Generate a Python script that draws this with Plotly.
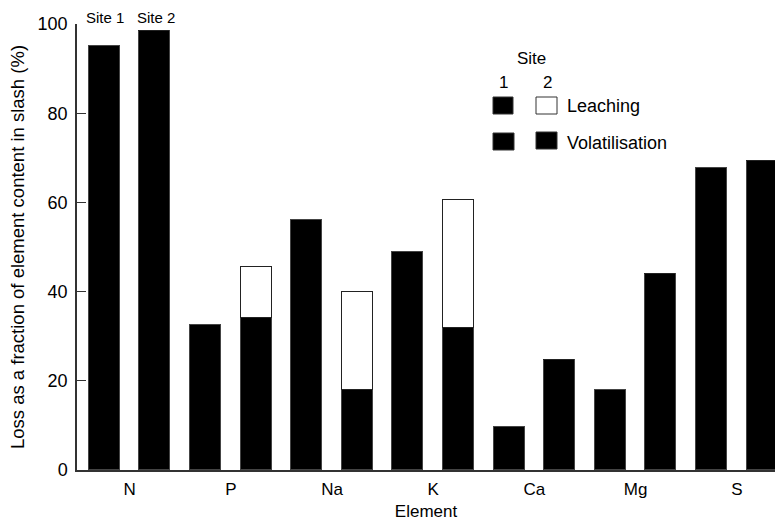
import plotly.graph_objects as go

# Element losses from slash (% of element content), per site
elements = ["N", "P", "Na", "K", "Ca", "Mg", "S"]
site1_volatilisation = [95, 32.5, 56, 48.8, 9.7, 18, 67.8]
site2_volatilisation = [98.5, 34, 18, 31.8, 24.7, 44, 69.3]
site2_leaching = [0, 11.5, 22, 28.7, 0, 0, 0]

y_ticks = [0, 20, 40, 60, 80, 100]

FONT = "Liberation Sans, Arial, sans-serif"
W, H = 775, 521
L, R, T, B = 77, 0, 24, 51


def px(x):
    return (x - L) / (W - L - R)


def py(y):
    return (H - B - y) / (H - T - B)


idx = list(range(len(elements)))
x1 = [i - 0.25 for i in idx]
x2 = [i + 0.25 for i in idx]
bw = 0.306

fig = go.Figure()
fig.add_trace(go.Bar(x=x1, y=site1_volatilisation, width=bw,
                     marker=dict(color="black", line=dict(color="#444", width=1)),
                     name="Site 1 volatilisation", showlegend=False))
fig.add_trace(go.Bar(x=x2, y=site2_volatilisation, width=bw,
                     marker=dict(color="black", line=dict(color="#444", width=1)),
                     name="Site 2 volatilisation", showlegend=False))
fig.add_trace(go.Bar(x=x2, y=site2_leaching, width=bw,
                     marker=dict(color="white", line=dict(color="#222", width=1.5)),
                     name="Site 2 leaching", showlegend=False))

# Legend drawn by hand: column per site, row per loss pathway
shapes = []
boxes = [
    (493, 97, 513, 114, "black"),
    (536, 97, 557, 114, "white"),
    (493, 133, 514, 150, "black"),
    (536, 132, 557, 149, "black"),
]
for x0, y0, x1_, y1, c in boxes:
    shapes.append(dict(type="rect", xref="paper", yref="paper",
                       x0=px(x0), x1=px(x1_), y0=py(y1), y1=py(y0),
                       fillcolor=c, line=dict(color="#333", width=1)))

annotations = []


def note(text, x, y, size=18, xanchor="center"):
    annotations.append(dict(text=text, xref="paper", yref="paper",
                            x=px(x), y=py(y), xanchor=xanchor, yanchor="middle",
                            showarrow=False, font=dict(family=FONT, size=size, color="#000000")))


note("Site", 531, 58, size=17)
note("1", 503, 82, size=17)
note("2", 547, 82, size=17)
note("Leaching", 565, 106, xanchor="left")
note("Volatilisation", 565, 143, xanchor="left")
note("Site 1", 105, 18, size=15)
note("Site 2", 156, 18, size=15)

fig.update_layout(
    width=W, height=H,
    margin=dict(l=L, r=R, t=T, b=B),
    paper_bgcolor="white", plot_bgcolor="white",
    barmode="stack",
    bargap=0,
    font=dict(family=FONT, size=18, color="black"),
    shapes=shapes,
    annotations=annotations,
    xaxis=dict(
        range=[-0.52, 6.377],
        tickvals=idx, ticktext=elements,
        ticks="", showgrid=False, zeroline=False,
        showline=True, linecolor="#333", linewidth=1.5,
        ticklabelstandoff=3,
        tickfont=dict(family=FONT, size=17),
        title=dict(text="Element", font=dict(family=FONT, size=17), standoff=7),
    ),
    yaxis=dict(
        range=[0, 100],
        tickvals=y_ticks,
        ticks="inside", ticklen=9, tickcolor="#333", tickwidth=1.2,
        showgrid=False, zeroline=False,
        showline=True, linecolor="#333", linewidth=1.5,
        ticklabelstandoff=4,
        tickfont=dict(family=FONT, size=18),
        title=dict(text="Loss as a fraction of element content in slash (%)",
                   font=dict(family=FONT, size=18.5), standoff=8),
    ),
)

fig.write_html("out.html")
